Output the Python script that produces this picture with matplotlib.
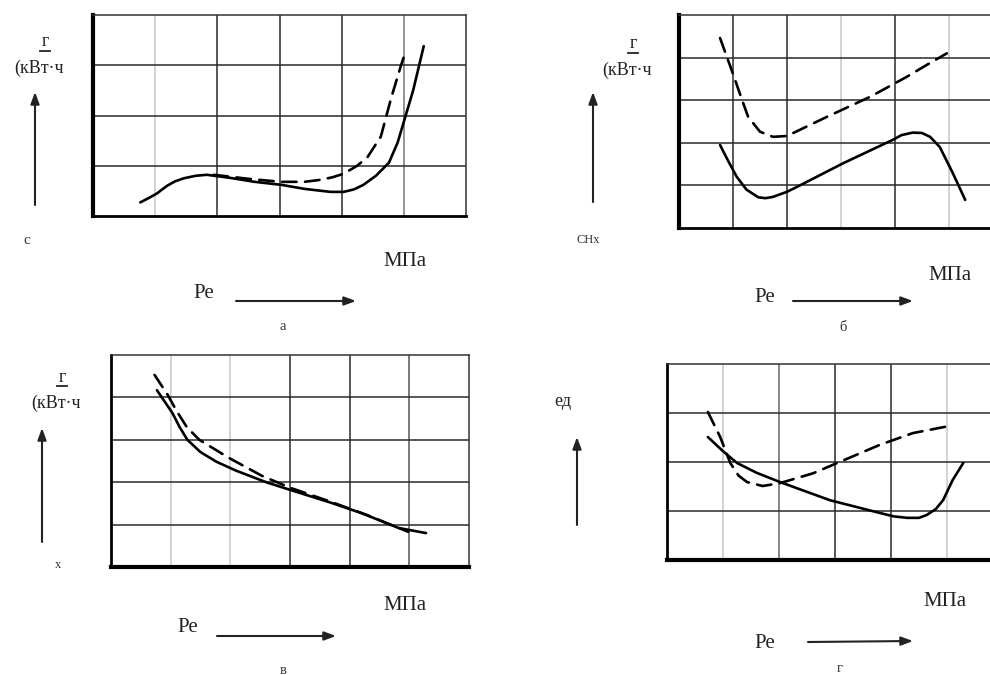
import matplotlib
matplotlib.use("Agg")
import matplotlib.pyplot as plt
from matplotlib.lines import Line2D

# --- data (x in grid columns, y in grid rows) ---
a_solid_x = [0.76, 0.9, 1.03, 1.19, 1.32, 1.46, 1.65, 1.83, 2.2, 2.6, 3.03, 3.4, 3.82, 4.03, 4.2, 4.35, 4.55, 4.76, 4.9, 5.03, 5.15, 5.32]
a_solid_y = [0.27, 0.36, 0.45, 0.6, 0.69, 0.75, 0.8, 0.82, 0.76, 0.68, 0.62, 0.54, 0.48, 0.48, 0.53, 0.62, 0.8, 1.06, 1.46, 2.0, 2.5, 3.38]
a_dash_x = [1.94, 2.5, 3.02, 3.4, 3.66, 3.85, 4.03, 4.25, 4.42, 4.63, 4.79, 4.95, 5.03]
a_dash_y = [0.82, 0.74, 0.68, 0.68, 0.72, 0.77, 0.84, 1.0, 1.18, 1.58, 2.32, 2.98, 3.28]

b_solid_x = [0.76, 0.9, 1.07, 1.25, 1.47, 1.6, 1.74, 2.0, 2.24, 3.04, 3.96, 4.12, 4.33, 4.5, 4.65, 4.83, 5.07, 5.3]
b_solid_y = [1.95, 1.6, 1.2, 0.9, 0.72, 0.7, 0.73, 0.85, 1.0, 1.52, 2.07, 2.18, 2.24, 2.23, 2.14, 1.9, 1.29, 0.66]
b_dash_x = [0.76, 0.94, 1.17, 1.28, 1.5, 1.74, 2.0, 2.74, 3.54, 4.22, 4.59, 4.96]
b_dash_y = [4.46, 3.83, 3.0, 2.61, 2.26, 2.14, 2.16, 2.61, 3.08, 3.55, 3.83, 4.1]

c_solid_x = [0.77, 0.9, 1.03, 1.15, 1.28, 1.5, 1.77, 2.1, 2.6, 3.0, 3.7, 4.2, 4.82, 5.28]
c_solid_y = [4.17, 3.9, 3.63, 3.3, 3.0, 2.71, 2.48, 2.27, 2.0, 1.82, 1.51, 1.27, 0.92, 0.8]
c_dash_x = [0.73, 0.95, 1.1, 1.27, 1.48, 1.98, 2.53, 3.0, 3.7, 4.3, 4.98]
c_dash_y = [4.53, 4.06, 3.68, 3.3, 3.0, 2.57, 2.15, 1.87, 1.53, 1.22, 0.83]

d_solid_x = [0.73, 1.0, 1.25, 1.6, 2.02, 2.91, 3.8, 4.05, 4.29, 4.5, 4.64, 4.8, 4.93, 5.1, 5.29]
d_solid_y = [2.51, 2.22, 1.98, 1.78, 1.59, 1.22, 0.96, 0.89, 0.86, 0.86, 0.92, 1.04, 1.22, 1.63, 1.98]
d_dash_x = [0.73, 0.95, 1.13, 1.28, 1.43, 1.71, 2.02, 2.61, 3.04, 3.8, 4.39, 5.02]
d_dash_y = [3.02, 2.51, 1.98, 1.72, 1.59, 1.51, 1.57, 1.77, 1.98, 2.35, 2.59, 2.73]

W, H = 990, 675
plt.rcParams['font.family'] = ['Liberation Serif', 'DejaVu Serif']

fig = plt.figure(figsize=(W / 100, H / 100), dpi=100)


def px_axes(left, top, right, bottom):
    return fig.add_axes([left / W, 1 - bottom / H, (right - left) / W, (bottom - top) / H])


def setup(ax, nrows, light, thick_left, thick_bottom):
    ax.set_xlim(0, 6)
    ax.set_ylim(0, nrows)
    ax.set_xticks(range(1, 6))
    ax.set_yticks(range(1, nrows))
    ax.tick_params(length=0, labelbottom=False, labelleft=False)
    ax.grid(True, color='#2a2a2a', lw=1.1)
    for i, gl in enumerate(ax.get_xgridlines()):
        if i + 1 in light:
            gl.set_color('#c8c8c8')
    for s in ax.spines.values():
        s.set_color('#333333')
        s.set_linewidth(1.1)
    ax.spines['left'].set_color('black')
    ax.spines['bottom'].set_color('black')
    ax.spines['left'].set_linewidth(thick_left)
    ax.spines['bottom'].set_linewidth(thick_bottom)
    ax.set_axisbelow(True)


def curves(ax, sx, sy, dx, dy):
    ax.plot(sx, sy, color='black', lw=1.9, solid_joinstyle='round', solid_capstyle='round', clip_on=False)
    ax.plot(dx, dy, color='black', lw=1.9, dashes=(5.5, 3.2), dash_capstyle='round', clip_on=False)


def arrow(x0, y0, x1, y1):
    fig.add_artist(matplotlib.patches.FancyArrowPatch(
        (x0 / W, 1 - y0 / H), (x1 / W, 1 - y1 / H), transform=fig.transFigure,
        arrowstyle='-|>,head_length=7,head_width=2.6', mutation_scale=1,
        color='#222222', lw=1.5, shrinkA=0, shrinkB=0))


def txt(x, y, s, size, **kw):
    fig.text(x / W, 1 - y / H, s, fontsize=size, ha='center', va='center', **kw)


def unit(x, y):
    # "г" over a short fraction bar, then "(кВт·ч" below
    txt(x + 3, y, 'г', 13, color='#222222')
    fig.add_artist(Line2D([(x - 2) / W, (x + 8) / W], [1 - (y + 9) / H] * 2,
                          transform=fig.transFigure, color='#222222', lw=1.3))
    txt(x - 3, y + 26, '(кВт·ч', 13, color='#222222')


# panel a
ax_a = px_axes(93, 15, 466, 216)
setup(ax_a, 4, light=[1], thick_left=3.0, thick_bottom=2.0)
ax_a.get_xgridlines()[4].set_color('#777777')
curves(ax_a, a_solid_x, a_solid_y, a_dash_x, a_dash_y)

# panel b
ax_b = px_axes(679, 15, 1003, 228)
setup(ax_b, 5, light=[3, 5], thick_left=3.0, thick_bottom=2.0)
curves(ax_b, b_solid_x, b_solid_y, b_dash_x, b_dash_y)

# panel c
ax_c = px_axes(111, 355, 469, 567)
setup(ax_c, 5, light=[1, 2], thick_left=2.0, thick_bottom=3.0)
ax_c.get_xgridlines()[4].set_color('#555555')
curves(ax_c, c_solid_x, c_solid_y, c_dash_x, c_dash_y)

# panel d
ax_d = px_axes(667, 364, 1003, 560)
setup(ax_d, 4, light=[1, 5], thick_left=2.0, thick_bottom=3.0)
ax_d.get_xgridlines()[1].set_color('#666666')
curves(ax_d, d_solid_x, d_solid_y, d_dash_x, d_dash_y)

# labels, panel a
unit(42, 42)
arrow(35, 205, 35, 92)
txt(27, 240, 'с', 11, color='#333333')
txt(405, 261, 'МПа', 15, color='#222222')
txt(204, 294, 'Ре', 15, color='#222222')
arrow(236, 301, 356, 301)
txt(283, 327, 'а', 10.5, color='#333333')

# panel b
unit(630, 44)
arrow(593, 202, 593, 92)
txt(588, 240, 'CHx', 9, color='#333333')
txt(950, 275, 'МПа', 15, color='#222222')
txt(765, 298, 'Ре', 15, color='#222222')
arrow(793, 301, 913, 301)
txt(843, 328, 'б', 10.5, color='#333333')

# panel c
unit(59, 377)
arrow(42, 542, 42, 428)
txt(58, 565, 'х', 9, color='#333333')
txt(405, 605, 'МПа', 15, color='#222222')
txt(188, 628, 'Ре', 15, color='#222222')
arrow(217, 636, 336, 636)
txt(283, 670, 'в', 10.5, color='#333333')

# panel d
txt(563, 402, 'ед', 13, color='#222222')
arrow(577, 525, 577, 437)
txt(945, 602, 'МПа', 15, color='#222222')
txt(765, 643, 'Ре', 15, color='#222222')
arrow(808, 642, 913, 641)
txt(840, 668, 'г', 10.5, color='#333333')

fig.savefig('out.png', dpi=100)
